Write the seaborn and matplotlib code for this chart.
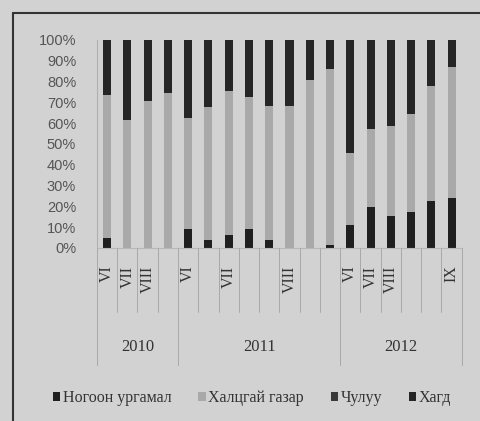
import pandas as pd
import matplotlib
matplotlib.use("Agg")
import matplotlib.pyplot as plt
import matplotlib.transforms as mtransforms
from matplotlib.patches import Patch
import seaborn as sns

# ---------------------------------------------------------------
# Data (percent of cover per survey)
# ---------------------------------------------------------------
months = ["VI", "VII", "VIII", "",
          "VI", "", "VII", "", "", "VIII", "", "",
          "VI", "VII", "VIII", "", "", "IX"]
years = ["2010", "2011", "2012"]
year_sizes = [4, 8, 6]

series_names = ["Ногоон ургамал", "Халцгай газар", "Чулуу", "Хагд"]
green = [5, 0, 0, 0, 9, 4, 6, 9, 4, 0, 0, 1.5, 11, 19.5, 15.5, 17.5, 22.5, 24]
bare = [68.5, 61.5, 70.5, 74.5, 53.5, 64, 69.5, 63.5, 64.5, 68.5, 81, 84.5,
        34.5, 37.5, 43, 47, 55.5, 63]
stone = [0] * 18
dry = [26.5, 38.5, 29.5, 25.5, 37.5, 32, 24.5, 27.5, 31.5, 31.5, 19, 14,
       54.5, 43, 41.5, 35.5, 22, 13]

colors = ["#1f1f1f", "#a9a9a9", "#3a3a3a", "#262626"]
bg = "#d2d2d2"

sns.set_theme(style="white")
plt.rcParams["font.family"] = ["Liberation Serif", "DejaVu Serif"]

fig = plt.figure(figsize=(4.8, 4.21), dpi=100, facecolor=bg)
ax = fig.add_axes([0.202, 0.411, 0.760, 0.494])
ax.set_facecolor(bg)

df = pd.DataFrame({"slot": list(range(len(months)))})
bottom = [0.0] * len(months)
for name, vals, col in zip(series_names, [green, bare, stone, dry], colors):
    df["val"] = vals
    sns.barplot(data=df, x="slot", y="val", bottom=bottom, color=col,
                width=0.4, errorbar=None, saturation=1, ax=ax, linewidth=0)
    bottom = [b + v for b, v in zip(bottom, vals)]

ax.set_ylim(0, 100)
ax.set_xlim(-0.5, len(months) - 0.5)
ax.set_yticks(range(0, 101, 10))
ax.set_yticklabels([f"{t}%" for t in range(0, 101, 10)],
                   family="Liberation Sans", fontsize=10.5, color="#555555")
ax.tick_params(axis="y", length=0, pad=15)
ax.set_xticks([])
ax.set_xlabel("")
ax.set_ylabel("")
for s in ["top", "right", "bottom"]:
    ax.spines[s].set_visible(False)
ax.spines["left"].set_color("#b0b0b0")
ax.spines["left"].set_linewidth(0.8)

# category axis: months, separators and years
trans = mtransforms.blended_transform_factory(ax.transData, ax.transAxes)
ax.plot([-0.5, len(months) - 0.5], [0, 0], transform=trans, color="#b8b8b8",
        lw=0.8, clip_on=False)
year_edges = [-0.5]
for n in year_sizes:
    year_edges.append(year_edges[-1] + n)
for i in range(len(months) + 1):
    xb = i - 0.5
    depth = -0.565 if xb in year_edges else -0.31
    ax.plot([xb, xb], [0, depth], transform=trans, color="#a8a8a8",
            lw=0.7, clip_on=False)
for i, m in enumerate(months):
    if m:
        ax.text(i, -0.085, m, transform=trans, rotation=90, ha="center",
                va="top", fontsize=11.5, color="#333333")
for k, y in enumerate(years):
    xc = (year_edges[k] + year_edges[k + 1]) / 2
    ax.text(xc, -0.476, y, transform=trans, ha="center", va="center",
            fontsize=12, color="#333333")

# legend
handles = [Patch(facecolor=c, edgecolor="none") for c in colors]
fig.legend(handles, series_names, loc="center", bbox_to_anchor=(0.525, 0.054),
           ncol=4, frameon=False, fontsize=11.5, handlelength=0.45,
           handleheight=0.45, handletextpad=0.15, columnspacing=1.7,
           labelcolor="#333333")

# scanned frame
fig.add_artist(plt.Line2D([0.027, 0.027], [0, 0.969], color="#333333", lw=1.5))
fig.add_artist(plt.Line2D([0.027, 1.0], [0.969, 0.969], color="#333333", lw=1.5))

fig.savefig("out.png", dpi=100, facecolor=bg)
